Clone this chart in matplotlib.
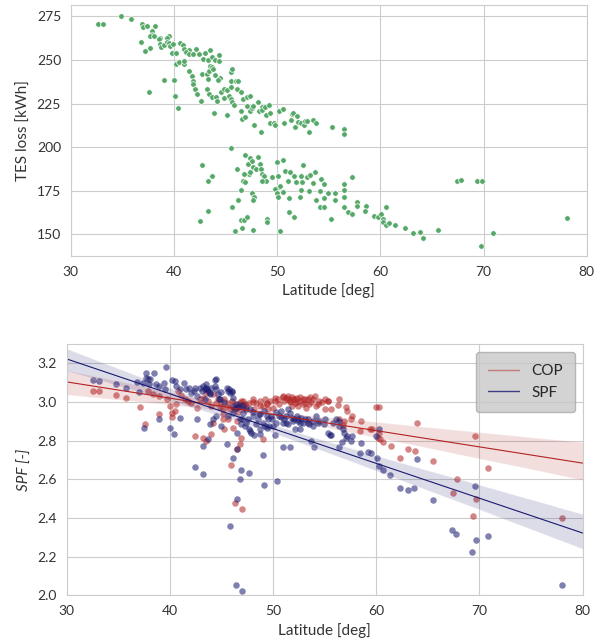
import numpy as np
import matplotlib
matplotlib.use('Agg')
import matplotlib.pyplot as plt
from matplotlib.lines import Line2D
import seaborn as sns

# --- top panel: TES loss vs latitude ---
tes_lat = [32.6, 33.1, 34.9, 35.8, 36.9, 37.0, 37.4, 38.2, 37.9, 37.9, 37.7, 38.1, 38.6, 38.5, 39.5, 39.3,
           36.8, 37.2, 37.6, 37.7, 38.6, 38.7, 39.0, 39.3, 39.5, 39.6, 39.9, 39.8, 40.2, 40.6, 40.9, 41.0,
           41.5, 41.2, 41.5, 42.1, 41.8, 42.4, 43.0, 43.5, 42.8, 43.3, 43.7, 44.0, 44.4, 44.4,
           39.0, 40.0, 40.1, 40.4, 40.2, 40.5, 41.0, 41.0, 41.5, 41.7, 41.8, 41.8, 42.0, 42.2, 42.6, 42.7,
           43.2, 43.3, 43.4, 43.5, 43.7, 43.8, 44.0, 44.5, 44.3, 43.2, 43.4, 43.7, 44.1, 44.2, 44.8, 44.6,
           44.8, 45.1, 45.5, 45.3, 45.5, 45.6, 45.8, 43.9, 45.1, 45.5, 45.5, 45.6, 46.0, 46.2, 46.1, 46.5,
           46.7, 47.1, 47.4, 46.5, 46.6, 46.9, 47.1, 47.4, 47.6, 47.7, 48.1, 48.2, 47.8, 48.4, 48.5, 48.5,
           48.8, 48.9, 49.2, 49.3, 49.3, 49.7, 49.8, 50.2, 50.6, 50.7, 51.3, 51.4, 51.5, 51.9, 51.7, 52.0,
           52.3, 52.6, 52.7, 52.9, 53.1, 53.5, 53.8, 55.3, 56.5, 56.5,
           45.5, 42.7, 43.3, 43.7, 43.3, 42.5,
           46.1, 46.9, 47.4, 47.2, 47.6, 48.1, 48.3, 47.7, 47.3, 46.8, 46.7, 46.9, 47.4, 47.9, 48.4, 48.5,
           48.7, 48.9, 48.5, 49.5, 50.0, 50.6, 50.8, 51.2, 51.6, 51.8, 52.3, 52.5, 52.9, 53.2, 53.5, 53.7,
           54.2, 54.5, 52.4, 50.1, 50.2, 49.8, 50.0, 50.3, 50.6, 51.0, 52.3, 53.1, 54.1, 54.9, 55.6, 52.2,
           50.1, 51.1, 53.8, 54.5, 55.6, 54.1, 54.5, 46.5, 47.6, 47.8, 47.7, 46.2, 45.6, 51.1, 51.6, 55.2,
           46.5, 46.8, 47.1, 46.6, 47.7, 49.0, 49.0, 50.3, 45.9,
           56.5, 56.5, 57.2, 56.5, 57.7, 57.7, 58.6, 58.5, 56.5, 56.9, 57.2, 59.4, 59.8, 60.1, 60.3, 60.5,
           60.3, 60.5, 60.8, 61.4, 62.4, 63.2, 63.8, 64.1, 65.6, 67.4, 67.8, 69.4, 69.8, 69.7, 70.9, 78.1]
tes_loss = [270.8, 270.8, 275.0, 273.7, 270.8, 268.9, 269.8, 269.8, 266.6, 264.1, 263.7, 263.7, 262.5, 262.2, 263.9, 262.5,
            260.6, 254.9, 231.5, 256.8, 259.3, 257.4, 258.9, 260.6, 259.9, 258.3, 259.3, 253.9, 253.9, 259.7, 258.7, 256.4,
            255.5, 254.5, 253.5, 256.4, 253.5, 253.5, 253.9, 255.5, 250.7, 250.1, 252.0, 250.1, 252.6, 249.7,
            238.6, 238.6, 229.6, 222.5, 247.8, 248.8, 247.8, 249.7, 243.6, 240.7, 238.2, 236.3, 233.4, 230.6, 226.7, 241.7,
            242.0, 239.2, 243.6, 246.8, 245.9, 244.9, 241.1, 239.6, 238.8, 233.4, 230.2, 228.6, 228.6, 226.7, 228.3, 231.5,
            233.4, 232.5, 234.4, 229.6, 227.7, 225.8, 224.4, 219.6, 218.5, 237.8, 243.0, 244.9, 237.8, 237.8, 233.4, 231.5,
            227.7, 228.6, 229.6, 221.0, 216.2, 217.1, 223.3, 221.0, 222.3, 223.3, 225.8, 221.0, 212.4, 208.5, 222.9, 221.5,
            222.9, 218.5, 224.4, 219.4, 213.7, 213.7, 212.4, 221.0, 221.9, 213.7, 215.8, 219.1, 219.8, 218.1, 211.8, 214.3,
            213.7, 212.5, 214.8, 214.8, 208.5, 215.8, 213.9, 211.8, 210.4, 207.6,
            199.7, 189.7, 180.7, 183.6, 163.5, 157.8,
            187.4, 195.7, 193.8, 190.3, 192.2, 194.5, 190.3, 188.4, 184.6, 184.6, 180.7, 179.8, 185.5, 187.4, 187.4, 184.6,
            183.6, 180.7, 180.7, 182.7, 191.3, 192.6, 186.5, 185.5, 183.6, 179.8, 183.6, 189.7, 182.7, 184.2, 179.2, 185.5,
            181.7, 178.8, 179.8, 183.6, 176.9, 175.9, 173.7, 177.9, 174.4, 180.7, 175.6, 174.6, 174.6, 173.5, 173.5, 171.6,
            171.6, 170.8, 169.6, 170.8, 169.6, 165.4, 165.4, 175.6, 173.5, 171.6, 169.6, 169.6, 165.4, 162.9, 159.7, 158.7,
            158.3, 158.3, 160.1, 153.4, 152.4, 158.7, 156.8, 151.6, 151.6,
            175.6, 178.8, 182.7, 171.6, 168.3, 166.4, 166.4, 163.5, 165.4, 162.5, 161.6, 160.6, 159.7, 161.6, 158.7, 165.4,
            156.8, 155.5, 156.4, 155.5, 153.4, 150.5, 151.4, 147.6, 152.4, 180.4, 181.3, 180.4, 180.4, 143.4, 150.5, 159.5]

# --- bottom panel: SPF and COP vs latitude ---
spf_lat = [32.6, 33.1, 34.8, 35.8, 36.8, 37.4, 37.7, 37.7, 37.9, 38.1, 38.0, 38.5, 38.7, 39.0, 39.4, 39.6,
           39.5, 40.2, 40.5, 40.6, 41.0, 41.4, 41.6, 41.9, 42.1, 42.3, 42.4, 42.6, 42.9, 43.1, 43.2, 43.4,
           43.5, 43.5, 43.7, 43.9, 44.0, 44.4, 44.5, 44.7, 44.8, 45.0, 45.5, 45.6, 45.8, 46.0, 46.1,
           37.0, 37.5, 39.0, 40.0, 40.4, 41.0, 42.6, 43.2, 43.7, 42.4, 43.2, 43.9, 44.2, 44.5, 45.0, 45.5,
           45.6, 46.1, 46.3, 46.5, 46.8, 47.1, 47.4, 46.8, 46.9, 47.3, 47.6, 47.7, 47.9, 48.2, 46.5, 46.1,
           46.9, 46.8, 47.7, 49.0, 49.1, 50.4, 45.8, 46.4, 47.0, 46.5,
           48.1, 48.5, 48.7, 49.0, 49.2, 49.5, 49.8, 50.0, 50.2, 50.3, 50.6, 50.8, 51.1, 51.3, 51.6, 51.8,
           51.9, 52.3, 52.4, 52.6, 52.7, 53.1, 53.4, 53.5, 53.9, 52.6, 52.1, 51.0, 51.6, 53.7, 49.6, 48.7,
           54.2, 54.5, 55.0, 55.3, 55.6, 55.8, 56.1, 56.4, 56.4, 56.8, 56.9, 57.1, 57.2, 57.6, 57.7, 58.4,
           58.5, 59.2, 59.5, 60.0, 60.1, 60.3, 60.3, 60.7, 61.3, 62.3, 63.1, 63.7, 64.0, 65.5, 67.3, 67.7,
           69.6, 69.7, 69.3, 70.8, 78.0, 56.4, 56.7, 54.0, 55.5,
           44.5, 44.4, 43.6, 45.7, 46.0, 43.9, 43.4, 44.9, 45.3, 46.1, 46.6, 47.1, 47.8, 48.1, 48.6, 49.1,
           49.4, 49.9, 50.3, 50.8, 51.3, 51.5, 52.0, 52.4, 52.9, 53.4, 53.9, 54.4, 54.9, 51.0, 51.5, 47.0,
           47.4, 48.4, 49.4, 46.5, 47.8, 48.7]
spf_val = [3.112, 3.107, 3.095, 3.074, 3.104, 3.100, 3.149, 3.126, 3.117, 3.121, 3.092, 3.152, 3.092, 3.083, 3.100, 3.181,
           3.066, 3.114, 3.107, 3.083, 3.066, 3.100, 3.066, 3.074, 3.048, 3.057, 3.074, 3.031, 3.074, 3.057, 3.083, 3.066,
           3.092, 3.074, 3.057, 3.048, 3.074, 3.114, 3.066, 3.040, 3.014, 3.052, 3.074, 3.057, 3.048, 3.057, 3.022,
           3.052, 2.867, 2.914, 2.867, 2.836, 2.919, 2.910, 2.772, 2.810, 2.663, 2.630, 2.884, 2.910, 2.927, 2.876, 2.781,
           2.927, 2.945, 2.962, 2.988, 2.979, 2.945, 2.962, 2.910, 2.884, 2.876, 2.910, 2.858, 2.841, 2.832, 2.755, 2.712,
           2.651, 2.603, 2.634, 2.724, 2.573, 2.591, 2.358, 2.055, 2.021, 2.499,
           2.927, 2.910, 2.936, 2.893, 2.876, 2.910, 2.927, 2.876, 2.832, 2.893, 2.927, 2.953, 2.910, 2.893, 2.945, 2.919,
           2.902, 2.927, 2.910, 2.893, 2.919, 2.910, 2.893, 2.884, 2.876, 2.858, 2.858, 2.769, 2.769, 2.801, 2.876, 2.858,
           2.927, 2.902, 2.910, 2.841, 2.832, 2.893, 2.910, 2.876, 2.902, 2.858, 2.841, 2.815, 2.824, 2.798, 2.824, 2.737,
           2.789, 2.741, 2.737, 2.824, 2.712, 2.862, 2.668, 2.646, 2.625, 2.556, 2.547, 2.556, 2.706, 2.492, 2.337, 2.320,
           2.568, 2.285, 2.226, 2.309, 2.052, 2.767, 2.793, 2.769, 2.832,
           3.119, 3.084, 3.067, 3.067, 3.053, 3.041, 3.015, 3.015, 2.998, 2.980, 2.972, 2.984, 2.963, 2.946, 2.937, 2.954,
           2.928, 2.911, 2.946, 2.920, 2.928, 2.963, 2.911, 2.903, 2.894, 2.911, 2.903, 2.894, 2.885, 2.894, 2.885, 2.911,
           2.894, 2.885, 2.868, 2.842, 2.851, 2.834]

cop_lat = [32.6, 33.1, 34.8, 35.8, 37.1, 37.6, 39.0, 38.4, 37.9, 39.0, 39.7, 40.0, 40.2, 40.5, 40.6, 40.2,
           40.8, 41.1, 41.5, 41.8, 42.1, 42.6, 42.9, 43.2, 43.5, 43.7, 44.0, 44.2, 44.5, 44.7, 45.0, 45.2,
           45.3, 45.5, 45.6, 46.0, 46.1, 46.3, 46.5, 46.8, 46.9, 47.1, 47.3, 47.4, 47.7, 48.1, 48.2, 48.4,
           48.7, 49.0, 49.2, 49.4, 49.5, 49.7, 50.0, 50.2, 50.5, 50.6, 51.0, 51.1, 51.3, 51.5, 51.6, 51.8,
           51.9, 52.1, 52.3, 52.4, 52.6, 52.9, 53.1, 53.2, 53.4, 53.5, 53.9,
           42.4, 43.2, 43.5, 44.0, 44.2, 45.2, 45.3, 46.1, 46.5, 46.8, 46.9, 46.5, 45.9, 46.3, 47.0, 49.0,
           45.2, 45.6,
           54.2, 54.7, 55.0, 55.3, 55.6, 56.3, 56.4, 57.1, 57.2, 57.6, 57.7, 56.9, 56.8, 58.5, 58.4, 59.4,
           59.6, 60.0, 60.3, 60.2, 60.4, 60.7, 61.4, 62.3, 63.1, 63.8, 64.0, 65.5, 67.8, 67.4, 69.4, 69.6,
           69.7, 70.8, 78.0, 60.3, 56.4,
           50.2, 51.0, 51.5, 51.8, 52.1, 52.6, 53.1, 53.6, 54.1, 54.5, 55.0, 55.3, 51.6, 52.3, 52.9, 53.7,
           54.4, 47.1, 48.1, 48.7, 49.4, 46.6, 45.8, 44.9]
cop_val = [3.057, 3.057, 3.038, 3.022, 2.976, 2.884, 2.936, 3.040, 3.057, 3.031, 3.014, 2.979, 2.945, 2.953, 2.988, 2.924,
           3.057, 3.035, 3.014, 3.005, 2.997, 2.971, 3.014, 3.022, 3.048, 3.005, 2.979, 3.040, 2.997, 3.014, 2.988, 2.962,
           3.014, 2.979, 2.997, 3.005, 2.962, 2.988, 2.976, 2.997, 3.005, 2.971, 2.988, 2.979, 2.997, 3.014, 2.962, 2.997,
           3.005, 2.979, 3.014, 2.997, 2.962, 3.005, 2.971, 3.005, 3.014, 2.988, 3.031, 3.005, 3.022, 3.014, 3.005, 2.979,
           3.014, 2.997, 3.022, 2.979, 3.005, 3.014, 2.997, 2.971, 3.014, 2.988, 3.014,
           2.824, 2.815, 2.801, 2.836, 2.893, 2.910, 2.858, 2.867, 2.902, 2.781, 2.815, 2.755, 2.674, 2.478, 2.449, 2.807,
           2.936, 2.910,
           2.979, 3.000, 2.965, 3.005, 2.962, 2.983, 3.017, 2.976, 2.953, 2.914, 2.927, 2.902, 2.879, 2.902, 2.850, 2.858,
           2.858, 2.976, 2.976, 2.815, 2.807, 2.793, 2.775, 2.712, 2.755, 2.746, 2.893, 2.696, 2.601, 2.532, 2.411, 2.824,
           2.499, 2.660, 2.399, 2.841, 2.910,
           3.019, 3.024, 3.032, 3.024, 3.015, 3.024, 3.015, 3.024, 3.032, 3.006, 3.015, 3.006, 2.998, 2.998, 2.989, 2.998,
           2.989, 3.006, 2.998, 2.980, 2.989, 2.946, 2.963, 2.972]

sns.set_style('whitegrid')
plt.rcParams['font.family'] = ['Lato', 'DejaVu Sans']

fig = plt.figure(figsize=(6, 6.43), dpi=100)
ax1 = fig.add_axes([0.118, 0.602, 0.86, 0.390])
ax2 = fig.add_axes([0.111, 0.074, 0.86, 0.391])

ax1.scatter(tes_lat, tes_loss, s=16, color='#55a868', edgecolor='white', linewidth=0.5)
ax1.set_xlim(30, 80)
ax1.set_ylim(137.5, 281.5)
ax1.set_xticks([30, 40, 50, 60, 70, 80])
ax1.set_yticks([150, 175, 200, 225, 250, 275])
ax1.set_xlabel('Latitude [deg]', fontsize=11, color='#333333')
ax1.set_ylabel('TES loss [kWh]', fontsize=11, color='#333333')

red = '#b22222'
blue = '#191970'
# fit lines span the whole axis, so fix the limits first
ax2.set_xlim(30, 80)
ax2.set_ylim(2.0, 3.3)
sns.regplot(x=np.array(cop_lat), y=np.array(cop_val), ax=ax2, color=red, seed=0, truncate=False,
            scatter_kws={'s': 22, 'alpha': 0.55, 'linewidths': 0}, line_kws={'lw': 0.8})
sns.regplot(x=np.array(spf_lat), y=np.array(spf_val), ax=ax2, color=blue, seed=0, truncate=False,
            scatter_kws={'s': 22, 'alpha': 0.55, 'linewidths': 0}, line_kws={'lw': 0.8})
ax2.set_xlim(30, 80)
ax2.set_ylim(2.0, 3.3)
ax2.set_xticks([30, 40, 50, 60, 70, 80])
ax2.set_yticks([2.0, 2.2, 2.4, 2.6, 2.8, 3.0, 3.2])
ax2.set_xlabel('Latitude [deg]', fontsize=11, color='#333333')
ax2.set_ylabel('SPF [-]', fontsize=11, style='italic', color='#333333')

handles = [Line2D([], [], color=red, lw=1, alpha=0.5), Line2D([], [], color=blue, lw=1, alpha=0.8)]
leg = ax2.legend(handles, ['COP', 'SPF'], loc='upper right', fontsize=11, frameon=True,
                 facecolor='#c8c8c8', edgecolor='#aaaaaa', framealpha=0.8, borderpad=0.8)

for ax in (ax1, ax2):
    ax.tick_params(labelsize=10, colors='#333333')

fig.savefig('out.png', dpi=100)
